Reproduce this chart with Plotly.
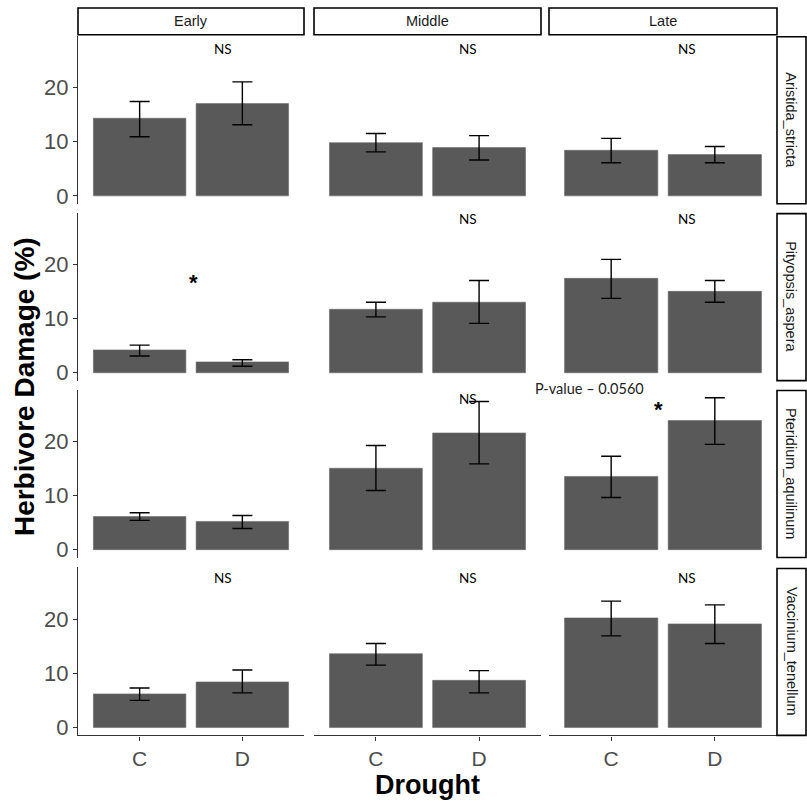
import plotly.graph_objects as go

# ---------------- data ----------------
periods = ["Early", "Middle", "Late"]
species = ["Aristida_stricta", "Pityopsis_aspera", "Pteridium_aquilinum", "Vaccinium_tenellum"]
treatments = ["C", "D"]

# mean herbivore damage (%) per species -> per period -> [C, D]
mean_aristida = [[14.3, 17.0], [9.8, 8.9], [8.4, 7.6]]
mean_pityopsis = [[4.2, 2.0], [11.7, 13.0], [17.4, 15.0]]
mean_pteridium = [[6.1, 5.2], [15.0, 21.5], [13.5, 23.8]]
mean_vaccinium = [[6.2, 8.4], [13.6, 8.7], [20.2, 19.1]]

upper_aristida = [[17.4, 21.0], [11.5, 11.1], [10.6, 9.1]]
upper_pityopsis = [[5.1, 2.4], [13.0, 17.0], [20.9, 17.0]]
upper_pteridium = [[6.8, 6.3], [19.2, 27.3], [17.2, 28.0]]
upper_vaccinium = [[7.3, 10.6], [15.5, 10.5], [23.3, 22.6]]

lower_aristida = [[10.9, 13.1], [8.1, 6.6], [6.1, 6.1]]
lower_pityopsis = [[3.1, 1.2], [10.3, 9.1], [13.7, 13.0]]
lower_pteridium = [[5.4, 3.9], [10.9, 15.8], [9.6, 19.4]]
lower_vaccinium = [[5.0, 6.4], [11.5, 6.4], [16.9, 15.5]]

means = [mean_aristida, mean_pityopsis, mean_pteridium, mean_vaccinium]
uppers = [upper_aristida, upper_pityopsis, upper_pteridium, upper_vaccinium]
lowers = [lower_aristida, lower_pityopsis, lower_pteridium, lower_vaccinium]

# significance labels: (species row, period col, text, x, y)
sig_labels = [
    (0, 0, "NS", 1.81, 27.1), (0, 1, "NS", 1.89, 27.1), (0, 2, "NS", 1.73, 27.1),
    (1, 0, "*", 1.52, 16.6), (1, 1, "NS", 1.89, 28.3), (1, 2, "NS", 1.73, 28.3),
    (2, 1, "NS", 1.89, 27.7), (2, 2, "*", 1.46, 25.8),
    (3, 0, "NS", 1.81, 27.5), (3, 1, "NS", 1.89, 27.5), (3, 2, "NS", 1.73, 27.5),
]
pvalue_text = "P-value \u2013 0.0560"

y_ticks = [0, 10, 20]
x_title = "Drought"
y_title = "Herbivore Damage (%)"

# ---------------- layout geometry (pixels) ----------------
W, H = 807, 808
col_px = [(78, 304), (314, 541), (549, 777)]
row_px = [(36, 205), (214, 383), (392, 561), (571, 740)]
strip_top_px = (8, 35)
strip_right_px = (777, 806)


def fx(px):
    return px / W


def fy(py):
    return 1 - py / H


SANS = "Liberation Sans, Arial, sans-serif"
BAR_COLOR = "#595959"
AX_COLOR = "#333333"
TICK_COLOR = "#4D4D4D"

fig = go.Figure()
layout = dict(
    width=W, height=H,
    margin=dict(l=0, r=0, t=0, b=0),
    paper_bgcolor="white", plot_bgcolor="white",
    showlegend=False,
    bargap=0.1,
)
annotations = []
shapes = []

for r, sp in enumerate(species):
    for c, per in enumerate(periods):
        k = r * 3 + c + 1
        xa = "x" if k == 1 else f"x{k}"
        ya = "y" if k == 1 else f"y{k}"
        m = means[r][c]
        u = uppers[r][c]
        lo = lowers[r][c]
        fig.add_trace(go.Bar(
            x=[1, 2], y=m, width=0.9,
            marker=dict(color=BAR_COLOR, line=dict(color="#6a6a6a", width=0.6)),
            error_y=dict(type="data", symmetric=False,
                         array=[u[i] - m[i] for i in range(2)],
                         arrayminus=[m[i] - lo[i] for i in range(2)],
                         color="black", thickness=1.4, width=10),
            xaxis=xa, yaxis=ya, hoverinfo="skip",
        ))
        bottom = (r == len(species) - 1)
        left = (c == 0)
        layout["xaxis" if k == 1 else f"xaxis{k}"] = dict(
            domain=[fx(col_px[c][0]), fx(col_px[c][1])],
            anchor=ya, range=[0.4, 2.6],
            tickvals=[1, 2], ticktext=treatments,
            showticklabels=bottom, ticks="outside" if bottom else "",
            ticklen=4, tickcolor=AX_COLOR, tickwidth=1,
            showline=bottom, linecolor=AX_COLOR, linewidth=1.2,
            showgrid=False, zeroline=False,
            tickfont=dict(family=SANS, size=21, color=TICK_COLOR),
            fixedrange=True,
        )
        layout["yaxis" if k == 1 else f"yaxis{k}"] = dict(
            domain=[fy(row_px[r][1]), fy(row_px[r][0])],
            anchor=xa, range=[-1.45, 29.5],
            tickvals=y_ticks,
            showticklabels=left, ticks="outside" if left else "",
            ticklen=4, tickcolor=AX_COLOR, tickwidth=1,
            showline=left, linecolor=AX_COLOR, linewidth=1.2,
            showgrid=False, zeroline=False,
            tickfont=dict(family=SANS, size=22, color=TICK_COLOR),
            fixedrange=True,
        )

# significance annotations
for (r, c, txt, x, y) in sig_labels:
    k = r * 3 + c + 1
    xa = "x" if k == 1 else f"x{k}"
    ya = "y" if k == 1 else f"y{k}"
    if txt == "*":
        font = dict(family=SANS, size=22, color="black")
        t = "<b>*</b>"
    else:
        font = dict(family="Lato, Open Sans, sans-serif", size=13.5, color="black")
        t = txt
    annotations.append(dict(x=x, y=y, xref=xa, yref=ya, text=t, showarrow=False,
                            font=font, xanchor="center", yanchor="middle"))

annotations.append(dict(x=fx(589), y=fy(390.5), xref="paper", yref="paper",
                        text=pvalue_text, showarrow=False,
                        font=dict(family="Lato, Open Sans, sans-serif", size=14.5, color="#222222"),
                        xanchor="center", yanchor="middle"))

# top strips
for c, per in enumerate(periods):
    x0, x1 = col_px[c]
    shapes.append(dict(type="rect", xref="paper", yref="paper",
                       x0=fx(x0), x1=fx(x1), y0=fy(strip_top_px[1]), y1=fy(strip_top_px[0]),
                       fillcolor="white", line=dict(color="black", width=1.6), layer="above"))
    annotations.append(dict(x=fx((x0 + x1) / 2), y=fy(sum(strip_top_px) / 2),
                            xref="paper", yref="paper", text=per, showarrow=False,
                            font=dict(family=SANS, size=14.5, color="#1A1A1A"),
                            xanchor="center", yanchor="middle"))

# right strips
for r, sp in enumerate(species):
    y0, y1 = row_px[r]
    shapes.append(dict(type="rect", xref="paper", yref="paper",
                       x0=fx(strip_right_px[0]), x1=fx(strip_right_px[1]),
                       y0=fy(y1), y1=fy(y0 + 1),
                       fillcolor="white", line=dict(color="black", width=1.6), layer="above"))
    annotations.append(dict(x=fx(sum(strip_right_px) / 2), y=fy((y0 + y1) / 2),
                            xref="paper", yref="paper", text=sp, showarrow=False,
                            textangle=90,
                            font=dict(family=SANS, size=14.5, color="#1A1A1A"),
                            xanchor="center", yanchor="middle"))

# axis titles
annotations.append(dict(x=fx(427.5), y=fy(790), xref="paper", yref="paper",
                        text=f"<b>{x_title}</b>", showarrow=False,
                        font=dict(family=SANS, size=27, color="black"),
                        xanchor="center", yanchor="middle"))
annotations.append(dict(x=fx(24), y=fy(389.5), xref="paper", yref="paper",
                        text=f"<b>{y_title}</b>", showarrow=False, textangle=-90,
                        font=dict(family=SANS, size=28, color="black"),
                        xanchor="center", yanchor="middle"))

layout["annotations"] = annotations
layout["shapes"] = shapes
fig.update_layout(**layout)

fig.write_html("out.html")
